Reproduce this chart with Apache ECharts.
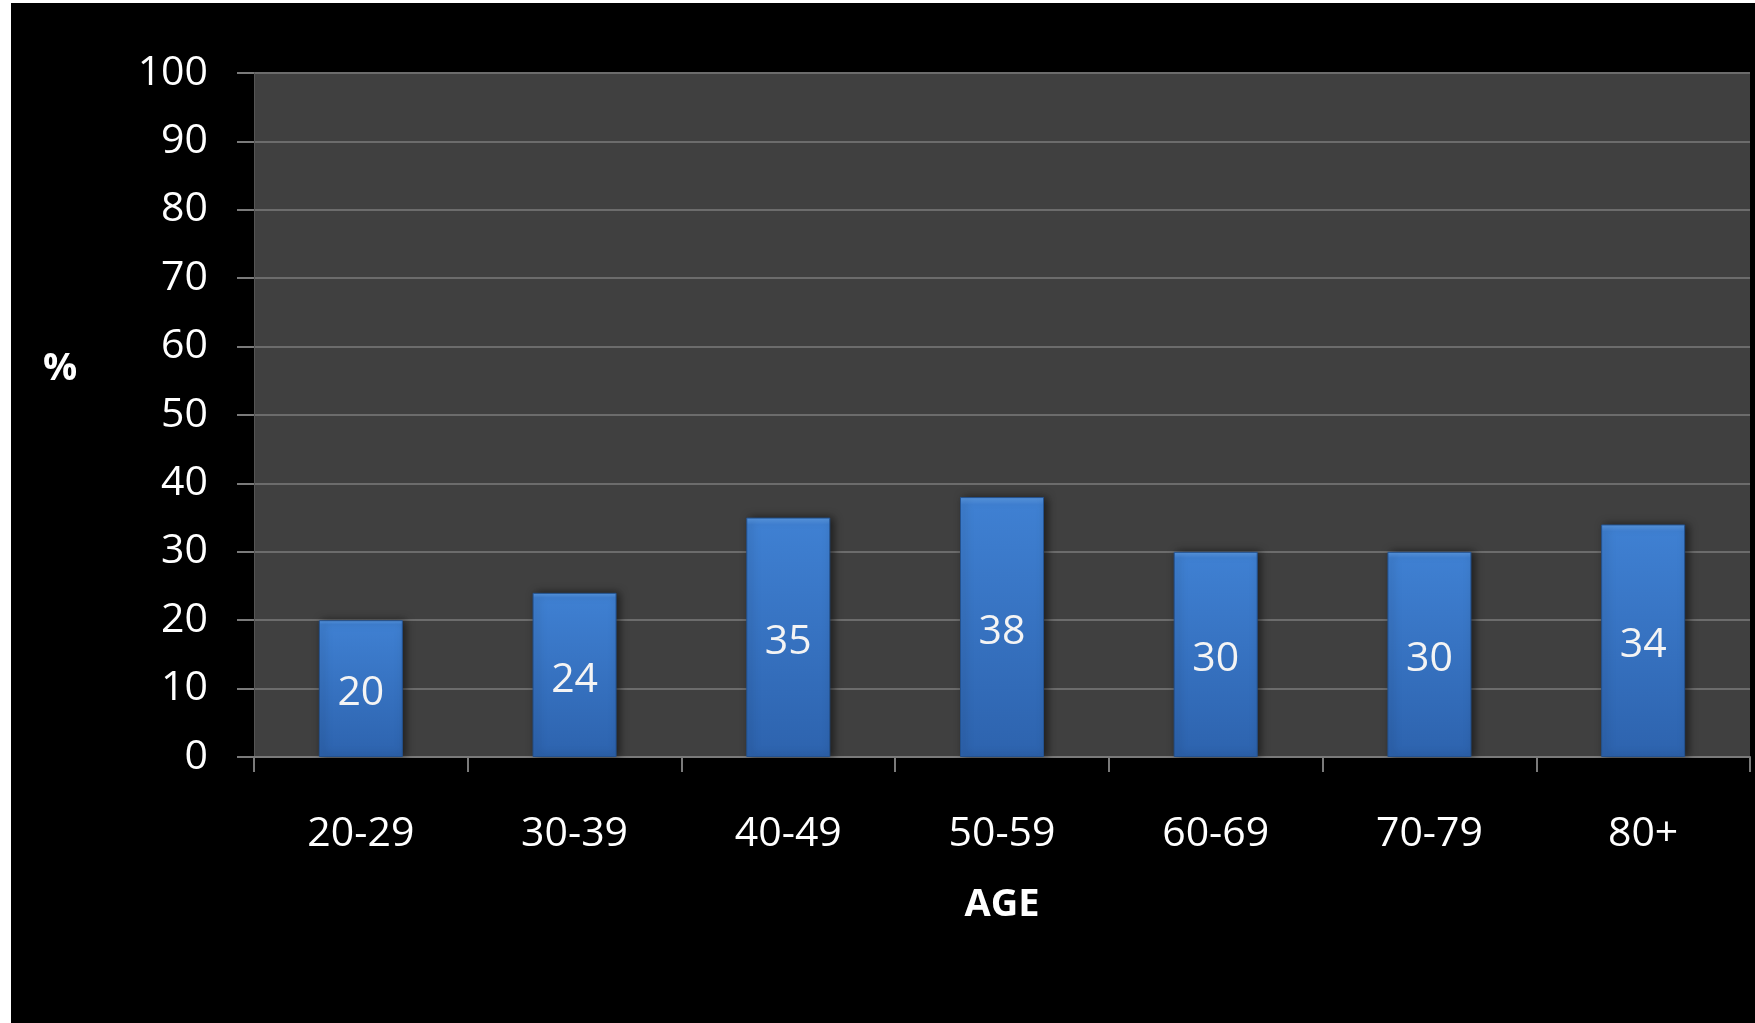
<!DOCTYPE html>
<html>
<head>
<meta charset="utf-8">
<script src="https://cdn.jsdelivr.net/npm/echarts@6/dist/echarts.min.js"></script>
<style>
    html, body { margin: 0; padding: 0; background: #fff; width: 1755px; height: 1023px; overflow: hidden; }
    #age-chart { position: absolute; left: 11px; top: 3px; width: 1744px; height: 1020px; background: #000; }
</style>
</head>
<body>
<div id="age-chart"></div>
<script>
const categories = ['20-29', '30-39', '40-49', '50-59', '60-69', '70-79', '80+'];
const percentValues = [20, 24, 35, 38, 30, 30, 34];
const yTicks = { min: 0, max: 100, interval: 10 };

const labelFont = '"Open Sans", "Noto Sans", sans-serif';
const axisGray = '#7a7a7a';

const option = {
    backgroundColor: '#000',
    animation: false,
    grid: {
        left: 243,
        right: 5,
        top: 70,
        bottom: 266,
        show: true,
        backgroundColor: '#404040',
        borderWidth: 0
    },
    graphic: [
        {
            type: 'text',
            left: 32,
            top: 347,
            style: {
                text: '%',
                fill: '#fff',
                font: 'bold 38px ' + labelFont
            }
        }
    ],
    xAxis: {
        type: 'category',
        data: categories,
        boundaryGap: true,
        name: 'AGE',
        nameLocation: 'middle',
        nameGap: 129,
        nameTextStyle: {
            color: '#fff',
            fontSize: 38,
            fontWeight: 'bold',
            fontFamily: labelFont
        },
        axisLine: { show: true, lineStyle: { color: axisGray, width: 2 } },
        axisTick: { show: true, length: 15, lineStyle: { color: axisGray, width: 2 } },
        axisLabel: {
            color: '#fff',
            fontSize: 41,
            fontFamily: labelFont,
            lineHeight: 42,
            margin: 56
        }
    },
    yAxis: {
        type: 'value',
        min: yTicks.min,
        max: yTicks.max,
        interval: yTicks.interval,
        axisLine: { show: true, lineStyle: { color: '#555', width: 1 } },
        axisTick: { show: true, length: 17, lineStyle: { color: axisGray, width: 2 } },
        axisLabel: {
            color: '#fff',
            fontSize: 41,
            fontFamily: labelFont,
            margin: 46
        },
        splitLine: { show: true, lineStyle: { color: '#6c6c6c', width: 2 } }
    },
    series: [
        {
            name: 'AGE',
            type: 'bar',
            data: percentValues,
            barWidth: 84,
            itemStyle: {
                color: new echarts.graphic.LinearGradient(0, 0, 0, 1, [
                    { offset: 0, color: '#5b9be6' },
                    { offset: 0.03, color: '#3f80d2' },
                    { offset: 1, color: '#2d63ae' }
                ]),
                borderColor: '#24528f',
                borderWidth: 1,
                shadowColor: 'rgba(0, 0, 0, 0.55)',
                shadowBlur: 8,
                shadowOffsetX: 3
            },
            label: {
                show: true,
                position: 'inside',
                offset: [0, 5],
                color: '#f4f4f4',
                fontSize: 41,
                fontFamily: labelFont
            }
        }
    ]
};

const chart = echarts.init(document.getElementById('age-chart'));
chart.setOption(option);
</script>
</body>
</html>
